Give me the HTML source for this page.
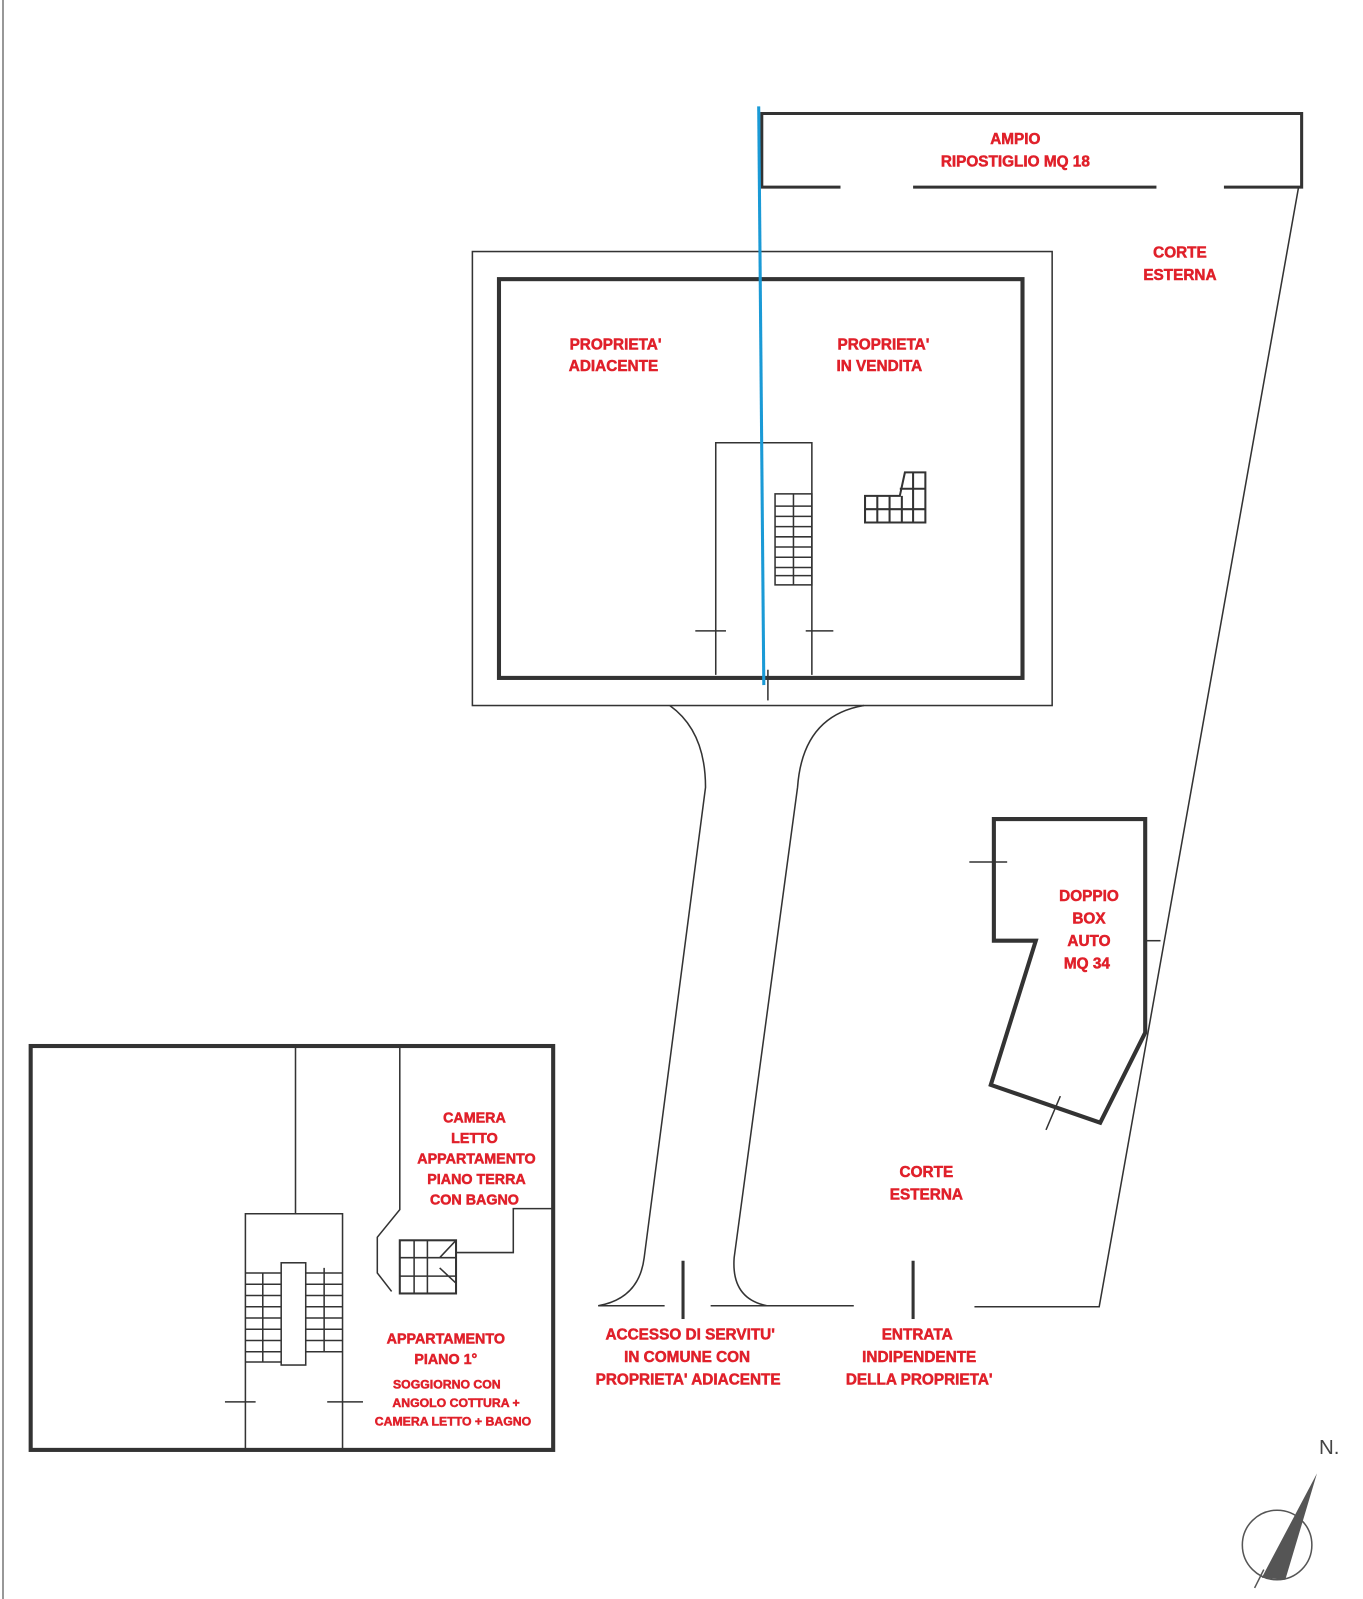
<!DOCTYPE html>
<html><head><meta charset="utf-8"><style>
html,body{margin:0;padding:0;background:#fff}
svg{display:block}
text{font-family:"Liberation Sans",sans-serif;font-weight:bold;fill:#e0202a;stroke:#e0202a;stroke-width:0.5;text-anchor:middle}
</style></head><body>
<svg width="1363" height="1599" viewBox="0 0 1363 1599" xmlns="http://www.w3.org/2000/svg">
<line x1="3" y1="0" x2="3" y2="1599" stroke="#777" stroke-width="1.5"/>
<g transform="scale(1.0225)">
<g fill="none" stroke="#333" stroke-width="1.5">
<path d="M822 183 H745 V111 H1273 V183 H1197" stroke-width="3"/>
<line x1="893" y1="183" x2="1131" y2="183" stroke-width="3"/>
<rect x="462" y="246" width="567" height="444"/>
<rect x="488" y="273" width="512" height="390" stroke-width="4"/>
<path d="M700 660 V433 H794 V660"/>
<line x1="680" y1="617" x2="710" y2="617"/><line x1="788" y1="617" x2="815" y2="617"/>
<line x1="751" y1="655" x2="751" y2="685"/>
<rect x="758" y="483" width="36" height="89"/>
<line x1="776" y1="483" x2="776" y2="572"/>
<path d="M758 495H794M758 505H794M758 515H794M758 525H794M758 535H794M758 545H794M758 555H794M758 563H794"/>
<path d="M846 511 V485 H880 L885 462 H905 V511 Z M846 498H905 M858 485V511 M870 485V511 M882 485V511 M893 462V511 M880 478H905" stroke-width="2"/>
<path d="M655 690 Q690 715 690 770 L630 1230 Q625 1270 585 1277 H650"/>
<path d="M845 690 Q785 700 780 770 L718 1230 Q715 1270 750 1277"/>
<line x1="695" y1="1277" x2="835" y2="1277"/>
<path d="M953 1278 H1075 L1270 183"/>
<line x1="668" y1="1233" x2="668" y2="1290" stroke-width="3"/>
<line x1="893" y1="1233" x2="893" y2="1290" stroke-width="3"/>
<path d="M972 801 H1120 V1010 L1076 1098 L969 1061 L1013 920 H972 Z" stroke-width="4"/>
<line x1="948" y1="843" x2="985" y2="843"/>
<line x1="1120" y1="920" x2="1135" y2="920"/>
<line x1="1037" y1="1072" x2="1023" y2="1105"/>
<rect x="30" y="1023" width="511" height="395" stroke-width="4"/>
<line x1="289" y1="1023" x2="289" y2="1187"/>
<path d="M391 1023 V1183 L369 1210 V1245 L383 1263"/>
<path d="M446 1225 H502 V1182 H541"/>
<rect x="391" y="1213" width="55" height="52" stroke-width="2"/>
<path d="M391 1230H446 M391 1248H446 M405 1213V1265 M418 1213V1265 M430 1230 L446 1213 M430 1240 L446 1255"/>
<path d="M240 1418 V1187 H335 V1418"/>
<rect x="275" y="1235" width="24" height="100"/>
<path d="M240 1245H275M240 1256H275M240 1267H275M240 1278H275M240 1289H275M240 1300H275M240 1311H275M240 1322H275M240 1332H275 M257 1245V1332"/>
<path d="M299 1245H335M299 1256H335M299 1267H335M299 1278H335M299 1289H335M299 1300H335M299 1311H335M299 1322H335 M317 1240V1322"/>
<line x1="220" y1="1371" x2="250" y2="1371"/><line x1="320" y1="1371" x2="355" y2="1371"/>
<circle cx="1249" cy="1511" r="34" stroke="#555"/>
<line x1="1236" y1="1535" x2="1227" y2="1553" stroke="#555"/>
</g>
<line x1="742" y1="104" x2="747" y2="670" stroke="#1a9ad6" stroke-width="3"/>
<polygon points="1288,1441 1234,1543 1257,1545" fill="#555"/>
<text x="1300" y="1422" style="fill:#444;stroke:none;font-weight:normal;font-size:20px">N.</text>
<g font-size="15">
<text x="993" y="141">AMPIO</text><text x="993" y="163">RIPOSTIGLIO MQ 18</text>
<text x="1154" y="252">CORTE</text><text x="1154" y="274">ESTERNA</text>
<text x="602" y="342">PROPRIETA'</text><text x="600" y="363">ADIACENTE</text>
<text x="864" y="342">PROPRIETA'</text><text x="860" y="363">IN VENDITA</text>
<text x="1065" y="881">DOPPIO</text><text x="1065" y="903">BOX</text><text x="1065" y="925">AUTO</text><text x="1063" y="947">MQ 34</text>
<text x="906" y="1151">CORTE</text><text x="906" y="1173">ESTERNA</text>
<text x="675" y="1310">ACCESSO DI SERVITU'</text><text x="672" y="1332">IN COMUNE CON</text><text x="673" y="1354">PROPRIETA' ADIACENTE</text>
<text x="897" y="1310">ENTRATA</text><text x="899" y="1332">INDIPENDENTE</text><text x="899" y="1354">DELLA PROPRIETA'</text>
<text x="464" y="1098" font-size="14">CAMERA</text><text x="464" y="1118" font-size="14">LETTO</text><text x="466" y="1138" font-size="14">APPARTAMENTO</text><text x="466" y="1158" font-size="14">PIANO TERRA</text><text x="464" y="1178" font-size="14">CON BAGNO</text>
<text x="436" y="1314" font-size="14">APPARTAMENTO</text><text x="436" y="1334" font-size="14">PIANO 1°</text>
<text x="437" y="1358" font-size="12">SOGGIORNO CON</text><text x="446" y="1376" font-size="12">ANGOLO COTTURA +</text><text x="443" y="1394" font-size="12">CAMERA LETTO + BAGNO</text>
</g>
</g>
</svg>
</body></html>
